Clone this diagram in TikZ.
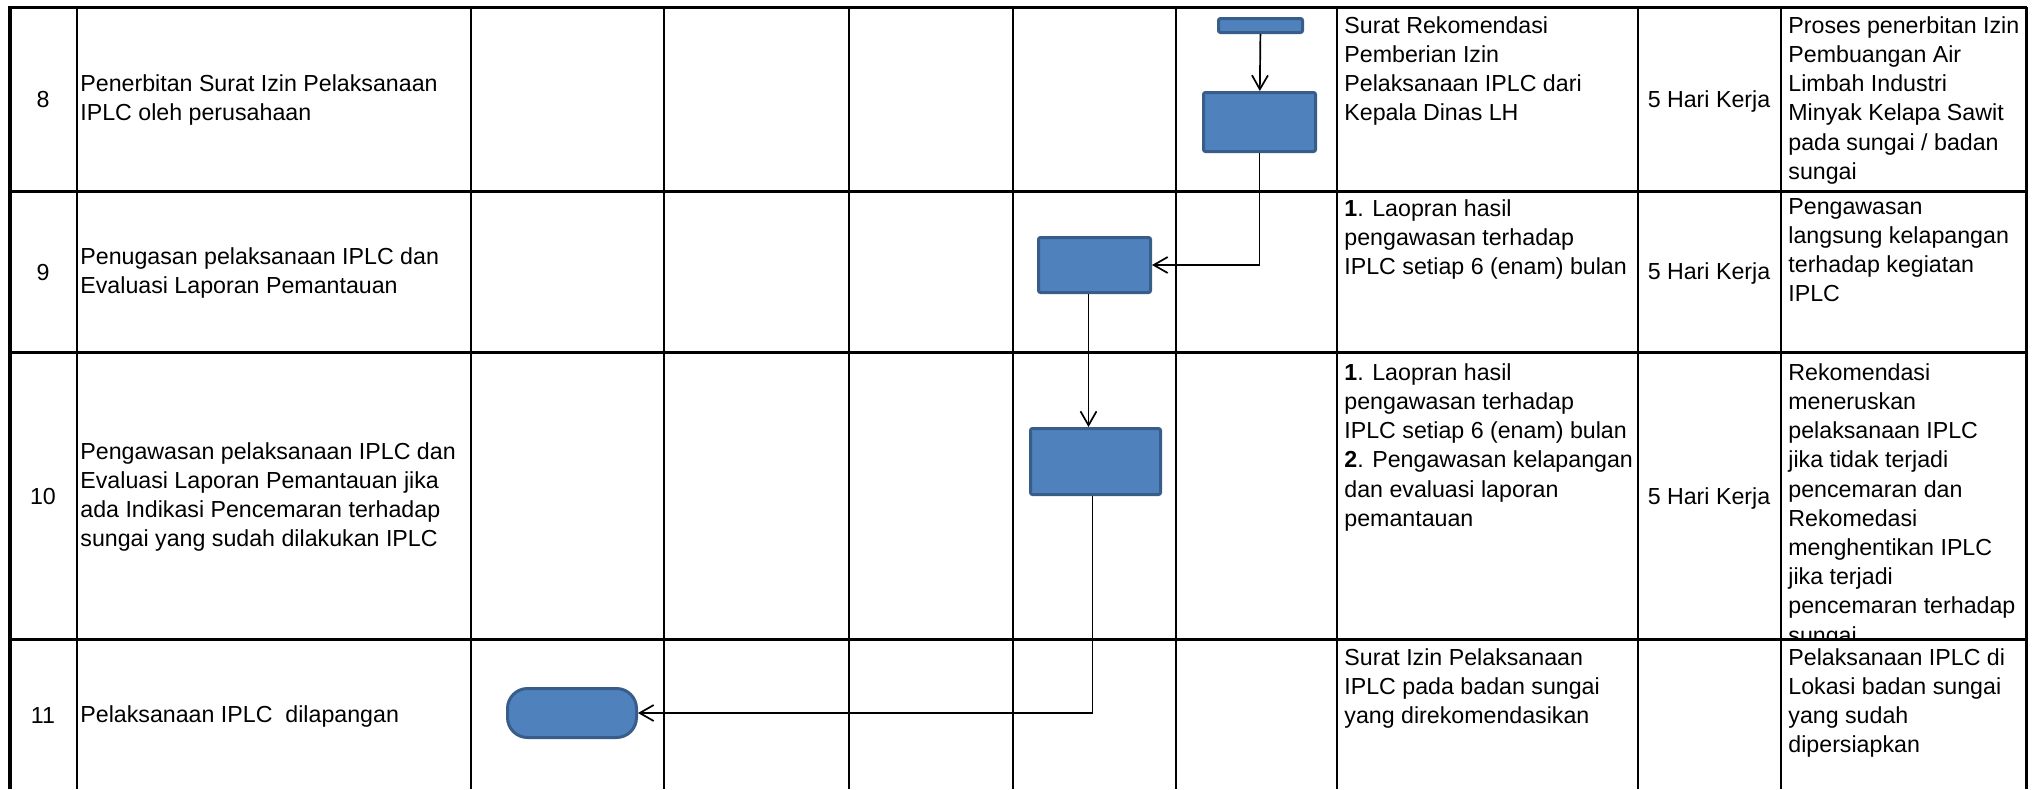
\documentclass[tikz,border=0pt]{standalone}
\usepackage{fontspec}
\setmainfont{Liberation Sans}
\usetikzlibrary{arrows.meta}
\tikzset{>={Straight Barb[length=7pt,width=8pt]}}
\definecolor{procfill}{HTML}{4F81BD}
\definecolor{procline}{HTML}{385D8A}
\newcommand{\cellfont}{\fontsize{11.6}{14.6}\selectfont}
\tikzset{
	celltxt/.style={inner sep=0pt, align=left, font=\cellfont},
	proc/.style={draw=procline, fill=procfill, line width=1.5pt, rounded corners=1pt, inner sep=0pt},
	gridv/.style={line width=1.15pt},
	gridh/.style={line width=1.5pt},
	flow/.style={->, line width=0.85pt}
}

\begin{document}
\begin{tikzpicture}[x=0.5pt,y=-0.5pt]
	\useasboundingbox (0,0) rectangle (2042,789);
	\node[celltxt] (n8) at (43,100) {8};
	\node[celltxt] (n9) at (43,273) {9};
	\node[celltxt] (n10) at (43,497) {10};
	\node[celltxt] (n11) at (43,716) {11};
	\node[celltxt, anchor=west] (d8) at (80,100) {Penerbitan Surat Izin Pelaksanaan\\IPLC oleh perusahaan};
	\node[celltxt, anchor=west] (d9) at (80,273) {Penugasan pelaksanaan IPLC dan\\Evaluasi Laporan Pemantauan};
	\node[celltxt, anchor=west] (d10) at (80,497) {Pengawasan pelaksanaan IPLC dan\\Evaluasi Laporan Pemantauan jika\\ada Indikasi Pencemaran terhadap\\sungai yang sudah dilakukan IPLC};
	\node[celltxt, anchor=west] (d11) at (80,716) {Pelaksanaan IPLC~ dilapangan};
	\node[celltxt, anchor=north west] (o8) at (1344,16) {Surat Rekomendasi\\Pemberian Izin\\Pelaksanaan IPLC dari\\Kepala Dinas LH};
	\node[celltxt, anchor=north west] (o9) at (1344,199) {\textbf{1}. Laopran hasil\\pengawasan terhadap\\IPLC setiap 6 (enam) bulan};
	\node[celltxt, anchor=north west] (o10) at (1344,363) {\textbf{1}. Laopran hasil\\pengawasan terhadap\\IPLC setiap 6 (enam) bulan\\\textbf{2}. Pengawasan kelapangan\\dan evaluasi laporan\\pemantauan};
	\node[celltxt, anchor=north west] (o11) at (1344,648) {Surat Izin Pelaksanaan\\IPLC pada badan sungai\\yang direkomendasikan};
	\node[celltxt] (t8) at (1709,101) {5 Hari Kerja};
	\node[celltxt] (t9) at (1709,273) {5 Hari Kerja};
	\node[celltxt] (t10) at (1709,498) {5 Hari Kerja};
	\node[celltxt, anchor=north west] (k8) at (1788,16) {Proses penerbitan Izin\\Pembuangan Air\\Limbah Industri\\Minyak Kelapa Sawit\\pada sungai / badan\\sungai};
	\node[celltxt, anchor=north west] (k9) at (1788,198) {Pengawasan\\langsung kelapangan\\terhadap kegiatan\\IPLC};
	\begin{scope}
		\clip (1781,352) rectangle (2026,639);
		\node[celltxt, anchor=north west] (k10) at (1788,363) {Rekomendasi\\meneruskan\\pelaksanaan IPLC\\jika tidak terjadi\\pencemaran dan\\Rekomedasi\\menghentikan IPLC\\jika terjadi\\pencemaran terhadap\\sungai};
	\end{scope}
	\node[celltxt, anchor=north west] (k11) at (1788,648) {Pelaksanaan IPLC di\\Lokasi badan sungai\\yang sudah\\dipersiapkan};
	\foreach \x in {77,471,664,849,1013,1176,1337,1638,1781}
		\draw[gridv] (\x,7) -- (\x,789);
	\foreach \y in {191,352,639}
		\draw[gridh] (10,\y) -- (2026,\y);
	\draw[gridh] (8,7) -- (2027,7);
	\draw[line width=2pt] (10,7) -- (10,789);
	\draw[gridh] (2026,7) -- (2026,789);
	\node[proc, minimum width=42pt, minimum height=7pt] (start) at (1260.5,25.5) {};
	\node[proc, minimum width=56pt, minimum height=29.5pt] (sk8) at (1259.5,122) {};
	\node[proc, minimum width=56pt, minimum height=27.5pt] (tugas9) at (1094.5,265) {};
	\node[proc, minimum width=65pt, minimum height=33pt] (awas10) at (1095.5,461.5) {};
	\node[proc, rounded corners=10pt, minimum width=64.5pt, minimum height=24.5pt] (lapangan11) at (572,713) {};
	\draw[flow] (start) -- (sk8);
	\draw[flow] (sk8.south) |- (tugas9.east);
	\draw[flow] ([xshift=-3pt]tugas9.south) -- ([xshift=-3pt]tugas9.south |- awas10.north);
	\draw[flow] ([xshift=-1.5pt]awas10.south) |- (lapangan11.east);
\end{tikzpicture}
\end{document}
